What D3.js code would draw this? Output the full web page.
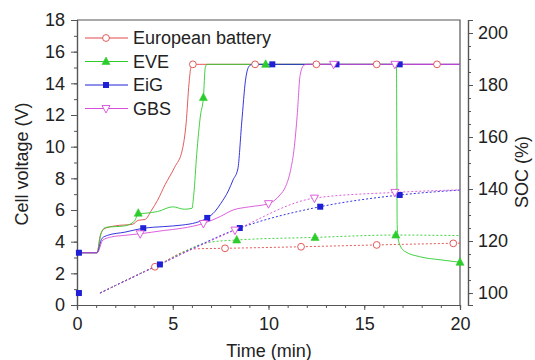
<!DOCTYPE html>
<html>
<head>
<meta charset="utf-8">
<script src="https://cdn.jsdelivr.net/npm/d3@7"></script>
<style>
  body { margin: 0; background: #fff; }
  text { font-family: Arial, "Liberation Sans", sans-serif; fill: #222; }
</style>
</head>
<body>
<div id="chart"></div>
<script>
// series names and ticks
var seriesNames = ['European battery', 'EVE', 'EiG', 'GBS'];
var xTicks = [0, 5, 10, 15, 20];
var yTicks = [0, 2, 4, 6, 8, 10, 12, 14, 16, 18];
var socTicks = [100, 120, 140, 160, 180, 200];

// cell voltage curves [time, V]
var euroV = [[0,3.3],[1.05,3.3],[1.2,4.3],[1.4,4.8],[2,5.0],[2.9,5.1],[3.2,5.35],[3.55,5.4],[3.9,6.0],[4.2,6.6],[4.6,7.6],[5.1,8.7],[5.5,9.8],[5.7,11.5],[5.85,14.0],[5.95,15.0],[6.1,15.2],[20,15.2]];
var eveV = [[0,3.3],[1.05,3.3],[1.25,4.5],[1.5,4.9],[2.5,5.0],[3.0,5.3],[3.2,5.75],[3.6,5.8],[4.2,5.9],[5.0,6.2],[5.6,6.05],[6.0,6.1],[6.1,7.0],[6.25,9.5],[6.45,12.0],[6.6,13.1],[6.7,15.0],[6.8,15.2],[16.68,15.2],[16.72,5.0],[16.8,4.0],[17.1,3.4],[17.9,3.05],[19,2.85],[20,2.7]];
var eigV = [[0,3.3],[1.05,3.3],[1.3,4.2],[1.6,4.4],[2.5,4.6],[3.46,4.85],[4.5,4.95],[5.5,5.05],[6.2,5.2],[6.8,5.5],[7.2,5.9],[7.5,6.4],[7.9,7.2],[8.15,7.9],[8.4,8.6],[8.6,11.5],[8.8,14.2],[9.0,15.1],[9.2,15.2],[20,15.2]];
var gbsV = [[0,3.3],[1.05,3.3],[1.35,4.1],[1.8,4.3],[2.5,4.4],[3.3,4.5],[4.5,4.7],[5.5,4.85],[6.6,5.15],[7.5,5.6],[8.15,6.0],[9,6.2],[10,6.4],[10.6,6.95],[10.9,7.5],[11.15,8.5],[11.35,10.0],[11.5,12],[11.65,14.5],[11.85,15.15],[12.0,15.2],[20,15.2]];

// state of charge curves [time, %]
var euroSoc = [[1.2,100],[4.07,110.1],[6.2,117],[7.73,117.2],[11.7,117.8],[15.65,118.5],[20,119.2]];
var eveSoc = [[1.2,100],[4.3,111],[6.9,119.5],[8.34,120.4],[12.43,121.4],[16.65,122.3],[20,122.1]];
var eigSoc = [[1.2,100],[4.33,111],[8.5,125],[9.1,126.5],[12.7,133.2],[16.85,137.7],[20,139.6]];
var gbsSoc = [[1.2,100],[4.3,111],[8.25,124.2],[12.4,136.5],[16.6,138.7],[20,139.7]];

// marker positions
var euroVMk = [[6.05,15.2],[9.3,15.2],[12.5,15.2],[15.65,15.2],[18.8,15.2]];
var eveVMk = [[3.2,5.8],[6.6,13.1],[9.85,15.2],[20,2.7]];
var eigVMk = [[0.1,3.3],[3.46,4.85],[6.8,5.5],[10.2,15.2],[13.55,15.2],[16.85,15.2]];
var gbsVMk = [[3.3,4.5],[6.6,5.15],[10.0,6.4],[13.4,15.2],[16.6,15.2]];
var euroSocMk = [[4.07,110.1],[7.73,117.2],[11.7,117.8],[15.65,118.5],[19.65,119.1]];
var eveSocMk = [[8.34,120.4],[12.43,121.4],[16.65,122.3]];
var eigSocMk = [[0.1,100],[4.33,111],[8.5,125],[12.7,133.2],[16.85,137.7]];
var gbsSocMk = [[8.25,124.2],[12.4,136.5],[16.6,138.7]];

var colors = ['#e04848', '#2ccc2c', '#1f1fd8', '#d84ed8'];
var shapes = ['circle', 'triangle', 'square', 'down'];

var svg = d3.select('#chart').append('svg')
    .attr('width', 535).attr('height', 360);

var x = d3.scaleLinear().domain([0, 20]).range([77, 460]);
var y = d3.scaleLinear().domain([0, 18]).range([305, 20]);
var ySoc = d3.scaleLinear().domain([95.4, 205]).range([305, 20]);

var lineV = d3.line().x(function(d) { return x(d[0]); }).y(function(d) { return y(d[1]); }).curve(d3.curveMonotoneX);
var lineS = d3.line().x(function(d) { return x(d[0]); }).y(function(d) { return ySoc(d[1]); }).curve(d3.curveMonotoneX);

// frame
svg.append('path').attr('d', 'M77,20H460V305').attr('fill', 'none').attr('stroke', '#555').attr('stroke-width', 1.2);

function styleAxis(g) {
  g.select('.domain').attr('stroke', '#555').attr('stroke-width', 1.2);
  g.selectAll('.tick line').attr('stroke', '#555');
  g.selectAll('text').style('font-size', '18px').attr('fill', '#222');
}

// bottom axis
svg.append('g').attr('transform', 'translate(0,305)')
  .call(d3.axisBottom(x).tickValues(d3.range(0, 21, 1)).tickFormat('').tickSize(3))
  .call(styleAxis);
svg.append('g').attr('transform', 'translate(0,305)')
  .call(d3.axisBottom(x).tickValues(xTicks).tickSize(5).tickPadding(7))
  .call(styleAxis);

// left axis
svg.append('g').attr('transform', 'translate(77,0)')
  .call(d3.axisLeft(y).tickValues(d3.range(0, 19, 1)).tickFormat('').tickSize(3))
  .call(styleAxis);
svg.append('g').attr('transform', 'translate(77,0)')
  .call(d3.axisLeft(y).tickValues(yTicks).tickSize(6).tickPadding(6))
  .call(styleAxis);

// right SOC axis
svg.append('g').attr('transform', 'translate(468,0)')
  .call(d3.axisRight(ySoc).tickValues(d3.range(100, 205, 5)).tickFormat('').tickSize(3))
  .call(styleAxis);
svg.append('g').attr('transform', 'translate(468,0)')
  .call(d3.axisRight(ySoc).tickValues(socTicks).tickSize(5).tickPadding(5))
  .call(styleAxis);

// axis titles
svg.append('text').attr('x', 269).attr('y', 357).attr('text-anchor', 'middle')
  .style('font-size', '18px').text('Time (min)');
svg.append('text').attr('transform', 'translate(28,164) rotate(-90)').attr('text-anchor', 'middle')
  .style('font-size', '18px').text('Cell voltage (V)');
svg.append('text').attr('transform', 'translate(528,172) rotate(-90)').attr('text-anchor', 'middle')
  .style('font-size', '18px').text('SOC (%)');

function marker(g, shape, color, cx, cy) {
  if (shape === 'circle') {
    g.append('circle').attr('cx', cx).attr('cy', cy).attr('r', 3.4)
      .attr('fill', '#fff').attr('stroke', color).attr('stroke-width', 0.9);
  } else if (shape === 'triangle') {
    g.append('path').attr('d', 'M' + cx + ',' + (cy - 4.5) + 'L' + (cx + 4) + ',' + (cy + 3) + 'L' + (cx - 4) + ',' + (cy + 3) + 'Z')
      .attr('fill', color).attr('stroke', color).attr('stroke-width', 0.6);
  } else if (shape === 'square') {
    g.append('rect').attr('x', cx - 3).attr('y', cy - 3).attr('width', 6).attr('height', 6)
      .attr('fill', color);
  } else {
    g.append('path').attr('d', 'M' + cx + ',' + (cy + 4.5) + 'L' + (cx + 4) + ',' + (cy - 3) + 'L' + (cx - 4) + ',' + (cy - 3) + 'Z')
      .attr('fill', '#fff').attr('stroke', color).attr('stroke-width', 0.9);
  }
}

var voltSets = [euroV, eveV, eigV, gbsV];
var socSets = [euroSoc, eveSoc, eigSoc, gbsSoc];
var voltMks = [euroVMk, eveVMk, eigVMk, gbsVMk];
var socMks = [euroSocMk, eveSocMk, eigSocMk, gbsSocMk];

var plot = svg.append('g');

// SOC dotted lines
socSets.forEach(function(s, i) {
  plot.append('path').attr('d', lineS(s)).attr('fill', 'none')
    .attr('stroke', colors[i]).attr('stroke-width', 0.9).attr('stroke-dasharray', '2,2');
});
// voltage lines
voltSets.forEach(function(s, i) {
  plot.append('path').attr('d', lineV(s)).attr('fill', 'none')
    .attr('stroke', colors[i]).attr('stroke-width', 0.9);
});
// markers
socMks.forEach(function(s, i) {
  s.forEach(function(d) { marker(plot, shapes[i], colors[i], x(d[0]), ySoc(d[1])); });
});
voltMks.forEach(function(s, i) {
  s.forEach(function(d) { marker(plot, shapes[i], colors[i], x(d[0]), y(d[1])); });
});

// legend
var legend = svg.append('g');
seriesNames.forEach(function(name, i) {
  var ly = 38 + i * 23.5;
  legend.append('line').attr('x1', 85).attr('x2', 128).attr('y1', ly).attr('y2', ly)
    .attr('stroke', colors[i]).attr('stroke-width', 1);
  marker(legend, shapes[i], colors[i], 106, ly);
  legend.append('text').attr('x', 133).attr('y', ly + 6).style('font-size', '18px').text(name);
});
</script>
</body>
</html>
